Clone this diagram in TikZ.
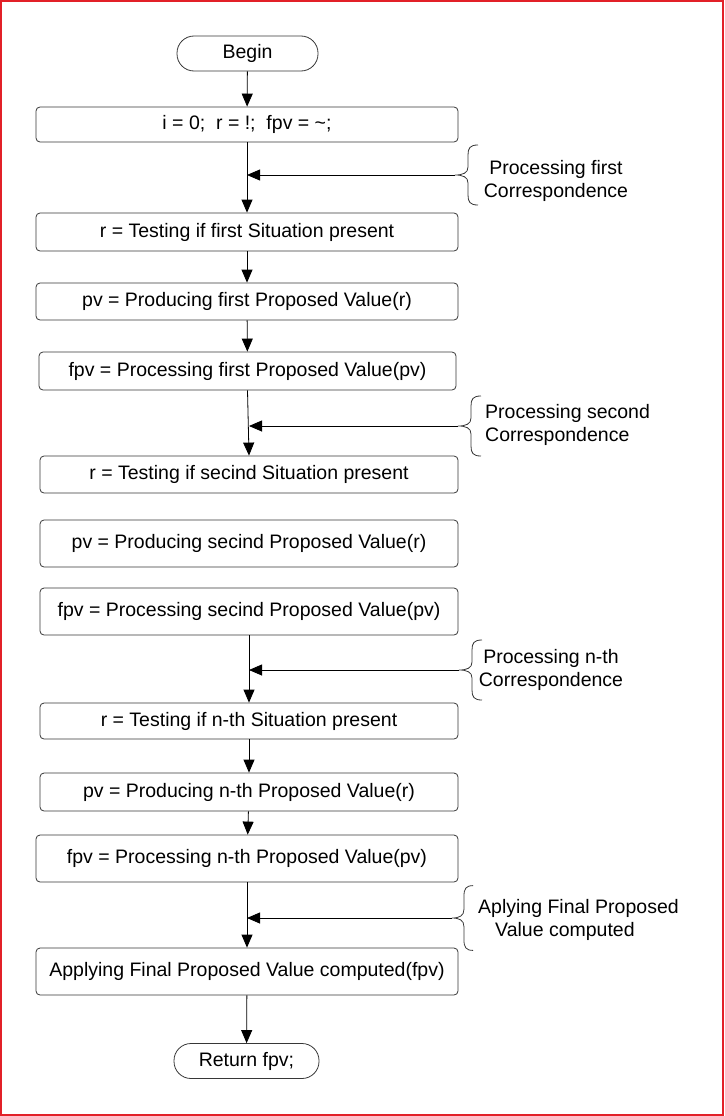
\documentclass[tikz,border=0pt]{standalone}
\usepackage{fontspec}
\setmainfont{Liberation Sans}
\usetikzlibrary{arrows.meta}
\definecolor{framered}{RGB}{226,32,40}
\definecolor{boxline}{RGB}{55,55,55}
\tikzset{
  lbl/.style={font=\fontsize{19.5}{23.5}\selectfont, inner sep=0pt},
  box/.style={lbl, draw=boxline, line width=0.8pt, rounded corners=4pt, minimum width=422pt, minimum height=37pt},
  term/.style={lbl, draw=boxline, line width=0.8pt, rounded corners=17pt, minimum height=35pt},
  flow/.style={draw=black, line width=0.8pt, -{Triangle[length=13pt,width=11pt]}},
  sidebrace/.pic={\draw[boxline, line width=0.8pt] (23,-30) .. controls (15,-30) and (13,-27) .. (13,-20) -- (13,-8) .. controls (13,-2) and (8,0) .. (0,0) .. controls (8,0) and (13,2) .. (13,8) -- (13,20) .. controls (13,27) and (15,30) .. (23,30);}
}
\begin{document}
\begin{tikzpicture}[x=1pt,y=-1pt]
\useasboundingbox (0,0) rectangle (724,1116);
\draw[framered, line width=2pt] (1,1) rectangle (723,1115);

\node[term, minimum width=141pt] (begin) at (247.5,53.5) {Begin};
\node[box, minimum height=35pt] (init) at (247,124.5) {i = 0;\ \ r = !;\ \ fpv = \textasciitilde;};
\node[box, minimum height=38pt] (r1) at (247,232) {r = Testing if first Situation present};
\node[box, minimum height=37pt] (pv1) at (247,301.5) {pv = Producing first Proposed Value(r)};
\node[box, minimum width=417pt, minimum height=38pt] (fpv1) at (247.5,371) {fpv = Processing first Proposed Value(pv)};
\node[box, minimum width=418pt, minimum height=37pt] (r2) at (249,474.5) {r = Testing if secind Situation present};
\node[box, minimum width=418pt, minimum height=47pt] (pv2) at (249,543.5) {pv = Producing secind Proposed Value(r)};
\node[box, minimum width=418pt, minimum height=47pt] (fpv2) at (249,611.5) {fpv = Processing secind Proposed Value(pv)};
\node[box, minimum width=418pt, minimum height=36pt] (r3) at (249,721) {r = Testing if n-th Situation present};
\node[box, minimum width=418pt, minimum height=38pt] (pv3) at (249,792) {pv = Producing n-th Proposed Value(r)};
\node[box, minimum height=47pt] (fpv3) at (247,858.5) {fpv = Processing n-th Proposed Value(pv)};
\node[box, minimum height=47pt] (apply) at (247,971.5) {Applying Final Proposed Value computed(fpv)};
\node[term, minimum width=145pt] (ret) at (246.5,1061) {Return fpv;};

\draw[flow] (begin) -- (init);
\draw[flow] (init) -- (r1);
\draw[flow] (r1) -- (pv1);
\draw[flow] (pv1) -- (fpv1);
\draw[flow] (fpv1.south) -- (r2.north);
\draw[flow] (fpv2.south) -- (r3.north);
\draw[flow] (r3) -- (pv3);
\draw[flow] (pv3) -- (fpv3);
\draw[flow] (fpv3) -- (apply);
\draw[flow] (apply) -- (ret);

% side notes
\coordinate (t1) at (455,175);
\coordinate (t2) at (458,426);
\coordinate (t3) at (459,670);
\coordinate (t4) at (452,918);
\pic at (t1) {sidebrace};
\pic at (t2) {sidebrace};
\pic at (t3) {sidebrace};
\pic[yscale=1.08, xscale=0.92] at (t4) {sidebrace};
\draw[flow] (t1) -- (t1 -| init.south);
\draw[flow] (t2) -- (t2 -| r2.north);
\draw[flow] (t3) -- (t3 -| r3.north);
\draw[flow] (t4) -- (t4 -| apply.north);

\node[lbl, align=center] (n1) at (556,181) {Processing first\\Correspondence};
\node[lbl, align=left, anchor=west] (n2) at (485,425) {Processing second\\Correspondence};
\node[lbl, align=center] (n3) at (551,670) {Processing n-th\\Correspondence};
\node[lbl, align=left, anchor=west] (n4) at (478,920) {Aplying Final Proposed\\\hspace*{17pt}Value computed};
\end{tikzpicture}
\end{document}
